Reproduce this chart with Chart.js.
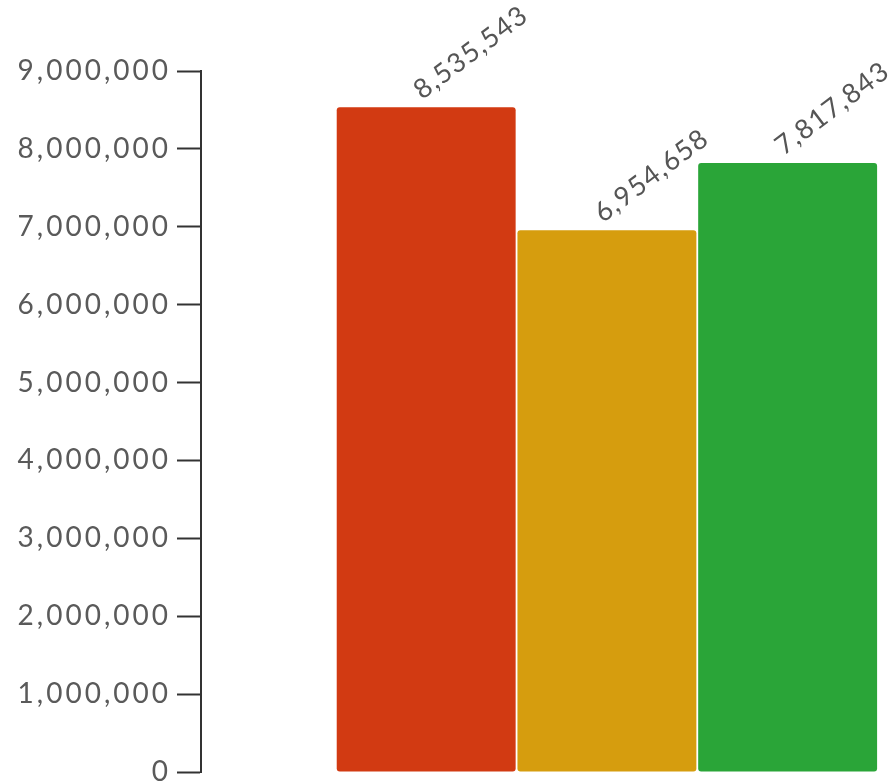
<!DOCTYPE html>
<html lang="en">
<head>
  <meta charset="UTF-8" />
  <title>Bar chart</title>
  <script src="https://cdn.jsdelivr.net/npm/chart.js"></script>
  <style>
    body {
      margin: 0;
      background: #ffffff;
    }
    #wrap {
      width: 892px;
      height: 783px;
    }
  </style>
</head>
<body>
  <div id="wrap">
    <canvas id="barChart" width="892" height="783"></canvas>
  </div>

  <script>
    // data
    const categories = ['A', 'B', 'C'];
    const values = [8535543, 6954658, 7817843];
    const barColors = ['#d23a12', '#d69d0e', '#2aa538'];
    const yTicks = [0, 1000000, 2000000, 3000000, 4000000, 5000000, 6000000, 7000000, 8000000, 9000000];

    const fmt = v => v.toLocaleString('en-US');

    // the reference text is set wide, so add a little tracking
    const wideText = {
      id: 'wideText',
      beforeDraw(chart) {
        chart.ctx.letterSpacing = '3px';
      }
    };

    // rotated value labels above each bar
    const valueLabels = {
      id: 'valueLabels',
      afterDatasetsDraw(chart) {
        const ctx = chart.ctx;
        const meta = chart.getDatasetMeta(0);
        ctx.save();
        ctx.font = '27px Lato';
        ctx.letterSpacing = '1.5px';
        ctx.fillStyle = '#555';
        ctx.textAlign = 'left';
        ctx.textBaseline = 'alphabetic';
        meta.data.forEach((bar, i) => {
          ctx.save();
          ctx.translate(bar.x - 4, bar.y - 7);
          ctx.rotate(-37 * Math.PI / 180);
          ctx.fillText(fmt(values[i]), 0, 0);
          ctx.restore();
        });
        ctx.restore();
      }
    };

    const ctx = document.getElementById('barChart').getContext('2d');

    new Chart(ctx, {
      type: 'bar',
      data: {
        datasets: [{
          label: 'Value',
          data: values.map((v, i) => ({ x: i, y: v })),
          backgroundColor: barColors,
          borderRadius: 3,
          borderSkipped: false,
          barPercentage: 0.99,
          categoryPercentage: 1
        }]
      },
      options: {
        responsive: false,
        animation: false,
        layout: {
          padding: { top: 71, right: 14, bottom: 11, left: 0 }
        },
        plugins: {
          legend: { display: false },
          tooltip: { enabled: false }
        },
        scales: {
          x: {
            type: 'linear',
            display: false,
            offset: false,
            min: -1.246,
            max: categories.length - 0.5,
            ticks: { stepSize: 1, includeBounds: false }
          },
          y: {
            min: 0,
            max: yTicks[yTicks.length - 1],
            afterFit: scale => {
              scale.width = 201;
              scale.paddingTop = 0;
              scale.paddingBottom = 0;
            },
            afterBuildTicks: scale => {
              scale.ticks = yTicks.map(v => ({ value: v }));
            },
            border: {
              display: true,
              color: '#333',
              width: 2
            },
            grid: {
              drawOnChartArea: false,
              drawTicks: true,
              tickLength: 24,
              tickWidth: 2,
              tickColor: '#333'
            },
            ticks: {
              color: '#5a5a5a',
              padding: 6,
              font: { family: 'Lato', size: 28 },
              callback: v => fmt(v)
            }
          }
        }
      },
      plugins: [wideText, valueLabels]
    });
  </script>
</body>
</html>
